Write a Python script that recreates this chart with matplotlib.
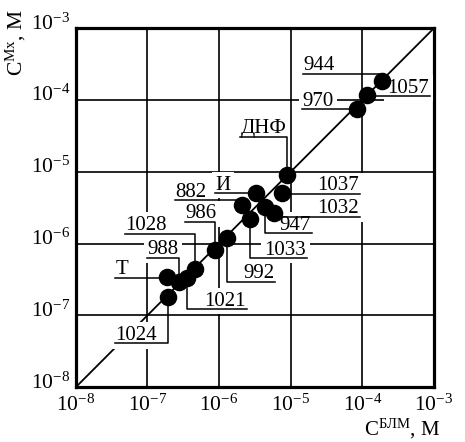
import numpy as np
import matplotlib.pyplot as plt
import matplotlib.transforms as mtransforms

plt.rcParams['font.family'] = ['Liberation Serif', 'DejaVu Serif']
plt.rcParams['mathtext.fontset'] = 'custom'
plt.rcParams['mathtext.rm'] = 'Liberation Serif'
plt.rcParams['mathtext.it'] = 'Liberation Serif:italic'
plt.rcParams['mathtext.bf'] = 'Liberation Serif:bold'

# --- data: concentration by BLM method vs. Mx method, M ---
names = ['944', '1057', '970', 'ДНФ', '1037', 'И', '882', '1033', '947',
         '1032', '992', '986', '1028', '1021', '988', 'Т', '1024']
c_blm = [1.86e-4, 1.17e-4, 8.5e-5, 8.9e-6, 7.5e-6, 3.3e-6, 2.1e-6, 2.7e-6, 4.4e-6,
         5.8e-6, 1.3e-6, 8.7e-7, 4.6e-7, 3.6e-7, 2.8e-7, 1.85e-7, 1.95e-7]
c_mx = [1.85e-4, 1.17e-4, 7.4e-5, 9.0e-6, 5.0e-6, 5.0e-6, 3.4e-6, 2.2e-6, 3.2e-6,
        2.7e-6, 1.2e-6, 8.1e-7, 4.5e-7, 3.3e-7, 2.9e-7, 3.4e-7, 1.8e-7]

decades = [1e-8, 1e-7, 1e-6, 1e-5, 1e-4, 1e-3]
tick_labels = [r'$\mathrm{10^{-8}}$', r'$\mathrm{10^{-7}}$', r'$\mathrm{10^{-6}}$',
               r'$\mathrm{10^{-5}}$', r'$\mathrm{10^{-4}}$', r'$\mathrm{10^{-3}}$']

# where each label sits: (log10 x of text edge, log10 y of underline, alignment)
label_pos = {
    '944': (-4.83, -3.631, 'left'),
    '1057': (-3.056, -3.947, 'right'),
    '970': (-4.844, -4.128, 'left'),
    'ДНФ': (-5.709, -4.514, 'left'),
    '1037': (-4.034, -5.302, 'right'),
    'И': (-6.059, -5.298, 'left'),
    '882': (-6.617, -5.396, 'left'),
    '1033': (-4.774, -6.203, 'right'),
    '947': (-4.704, -5.855, 'right'),
    '1032': (-4.034, -5.628, 'right'),
    '992': (-5.221, -6.533, 'right'),
    '986': (-6.478, -5.698, 'left'),
    '1028': (-7.316, -5.859, 'left'),
    '1021': (-5.612, -6.914, 'right'),
    '988': (-7.008, -6.194, 'left'),
    'Т': (-7.455, -6.472, 'left'),
    '1024': (-7.455, -7.391, 'left'),
}

fig = plt.figure(figsize=(4.65, 4.42), dpi=100)
ax = fig.add_axes([0.163, 0.124, 0.770, 0.812])
ax.set_xscale('log')
ax.set_yscale('log')
ax.set_xlim(1e-8, 1e-3)
ax.set_ylim(1e-8, 1e-3)

ax.set_axisbelow(True)
ax.grid(True, which='major', color='black', lw=1.2)
ax.minorticks_off()
ax.set_xticks(decades)
ax.set_yticks(decades)
ax.set_xticklabels(tick_labels)
ax.set_yticklabels(tick_labels)
ax.tick_params(length=0, labelsize=15.5, pad=4)
ax.tick_params(axis='x', pad=5)
# y tick labels sit a little above their grid line, as in the original
shift = mtransforms.ScaledTranslation(0, 5 / 72, fig.dpi_scale_trans)
for lab in ax.get_yticklabels():
    lab.set_transform(lab.get_transform() + shift)
for s in ax.spines.values():
    s.set_linewidth(2.3)

# y = x line
ax.plot([1e-8, 1e-3], [1e-8, 1e-3], color='black', lw=1.3, zorder=1)

for n, xd, yd in zip(names, c_blm, c_mx):
    lx, ly, ha = label_pos[n]
    x0, yu = 10 ** lx, 10 ** ly
    ax.plot([x0, xd, xd], [yu, yu, yd], color='black', lw=1.1, zorder=4)
    ax.annotate(n, (x0, yu), xytext=(0.5 if ha == 'left' else -0.5, 2.5),
                textcoords='offset points', ha=ha, va='baseline', fontsize=15,
                bbox=dict(fc='white', ec='none', pad=2.5), zorder=3)

ax.scatter(c_blm, c_mx, s=135, color='black', zorder=5, clip_on=False)

fig.text(0.783, 0.014, 'C$^{\\mathrm{БЛМ}}$, M', fontsize=15, ha='left', va='baseline')
fig.text(0.035, 0.905, 'C$^{\\mathrm{Mx}}$, M', fontsize=15.5, rotation=90,
         ha='center', va='center')

fig.savefig('out.png', dpi=100)
